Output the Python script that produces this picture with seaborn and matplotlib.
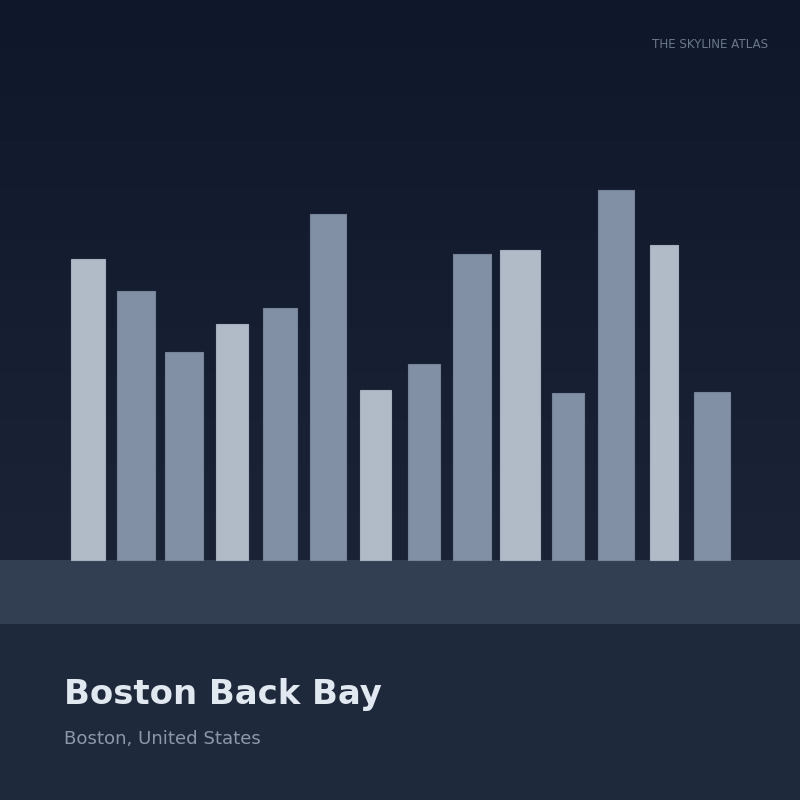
import numpy as np
import pandas as pd
import seaborn as sns
import matplotlib.pyplot as plt
from matplotlib.colors import LinearSegmentedColormap

# Skyline data (pixel-space layout of the poster, ground line at y=560 from top)
building_left = [71, 117, 165, 216, 263, 310, 360, 408, 453, 500, 552, 598, 650, 694]
building_width = [34, 38, 38, 32, 34, 36, 31, 32, 38, 40, 32, 36, 28, 36]
building_height = [301, 269, 208, 236, 252, 346, 170, 196, 306, 310, 167, 370, 315, 168]
building_tone = ["light", "mid", "mid", "light", "mid", "mid", "light",
                 "mid", "mid", "light", "mid", "mid", "light", "mid"]

title = "Boston Back Bay"
subtitle = "Boston, United States"
brand = "THE SKYLINE ATLAS"

tone_colors = {"light": "#b1bbc7", "mid": "#8290a6"}
tone_edges = {"light": "#a5afbd", "mid": "#76849a"}

df = pd.DataFrame({"left": building_left, "width": building_width,
                   "height": building_height, "tone": building_tone})

sns.set_theme(style="white")
plt.rcParams['font.family'] = ['DejaVu Sans']

fig = plt.figure(figsize=(8, 8), dpi=100)
ax = fig.add_axes([0, 0, 1, 1])
ax.set_xlim(0, 800)
ax.set_ylim(0, 800)
ax.axis("off")

GROUND = 240  # 800 - 560

# sky gradient
sky = LinearSegmentedColormap.from_list("sky", ["#1b2336", "#0f172a"])
grad = np.linspace(0, 1, 256).reshape(-1, 1)
ax.imshow(grad, cmap=sky, aspect="auto", extent=[0, 800, GROUND, 800],
          origin="lower", zorder=0)

# ground band and bottom panel
ax.add_patch(plt.Rectangle((0, 176), 800, 64, color="#323f52", zorder=1, lw=0))
ax.add_patch(plt.Rectangle((0, 0), 800, 176, color="#1e293b", zorder=1, lw=0))

# buildings
ax.bar(df["left"], df["height"], width=df["width"], bottom=GROUND, align="edge",
       color=[tone_colors[t] for t in df["tone"]],
       edgecolor=[tone_edges[t] for t in df["tone"]],
       linewidth=0.8, zorder=2)

# texts
ax.text(768, 800 - 44, brand, ha="right", va="center", fontsize=8.6,
        color="#6b778b", zorder=3)
ax.text(64, 800 - 704, title, ha="left", va="baseline", fontsize=24.4,
        fontweight="bold", color="#e2e8f0", zorder=3)
ax.text(64, 800 - 744, subtitle, ha="left", va="baseline", fontsize=13.1,
        color="#8d99ab", zorder=3)

fig.savefig("out.png", dpi=100)
